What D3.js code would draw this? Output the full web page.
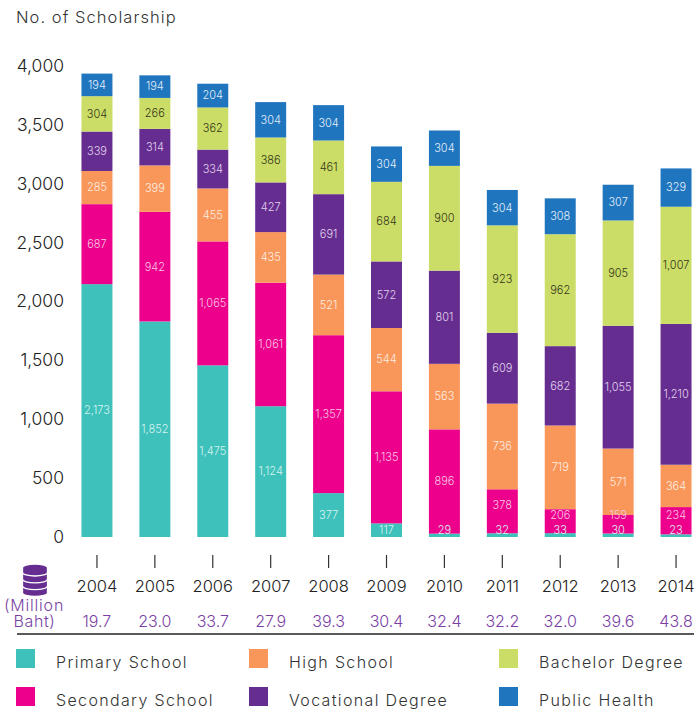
<!DOCTYPE html>
<html><head><meta charset="utf-8">
<script src="https://cdn.jsdelivr.net/npm/d3@7"></script>
<style>
html,body{margin:0;padding:0;background:#fff}
svg{display:block}
text{font-family:"Inter","Noto Sans",sans-serif;font-weight:300}
</style></head><body>
<svg id="c" width="700" height="711"></svg>
<script>
const years=["2004","2005","2006","2007","2008","2009","2010","2011","2012","2013","2014"];
const budget=["19.7","23.0","33.7","27.9","39.3","30.4","32.4","32.2","32.0","39.6","43.8"];
const seriesNames=["Primary School","Secondary School","High School","Vocational Degree","Bachelor Degree","Public Health"];
const primary=[2173,1852,1475,1124,377,117,29,32,33,30,23];
const secondary=[687,942,1065,1061,1357,1135,896,378,206,159,234];
const high=[285,399,455,435,521,544,563,736,719,571,364];
const vocational=[339,314,334,427,691,572,801,609,682,1055,1210];
const bachelor=[304,266,362,386,461,684,900,923,962,905,1007];
const health=[194,194,204,304,304,304,304,304,308,307,329];
const yTicks=[0,500,1000,1500,2000,2500,3000,3500,4000];
const colors=["#3EC1BB","#EC008C","#F9965A","#662D91","#CBDD66","#1F75BE"];
const labelFill=["#d8f3f1","#fbc6e2","#fdeee2","#e0d3ec","#33361a","#e3eefa"];

const svg=d3.select("#c");
const table=years.map((y,i)=>({year:y,Primary:primary[i],Secondary:secondary[i],High:high[i],Vocational:vocational[i],Bachelor:bachelor[i],Health:health[i]}));
const keys=["Primary","Secondary","High","Vocational","Bachelor","Health"];
const stacked=d3.stack().keys(keys)(table);

const x=d3.scaleBand().domain(years).range([68,705]).paddingInner(0.465).paddingOuter(0.2325);
const y=d3.scaleLinear().domain([0,4000]).range([537,71.5]);
const yLab=d3.scaleLinear().domain([0,4000]).range([536.5,66]);
const dark="#333";

svg.append("text").attr("x",16).attr("y",23).attr("font-size",16.5).attr("letter-spacing",1.05).attr("fill",dark).text("No. of Scholarship");

svg.append("g").selectAll("text").data(yTicks).join("text")
 .attr("x",64).attr("y",d=>yLab(d)).attr("dy","0.35em").attr("text-anchor","end")
 .attr("font-size",17.5).attr("fill","#222").text(d3.format(","));

const g=svg.append("g").selectAll("g").data(stacked).join("g").attr("fill",(d,i)=>colors[i]);
g.selectAll("rect").data(d=>d).join("rect")
 .attr("x",d=>x(d.data.year)).attr("width",x.bandwidth())
 .attr("y",d=>y(d[1])).attr("height",d=>y(d[0])-y(d[1]));

function labelY(sIdx,d){
  const c=(y(d[0])+y(d[1]))/2;
  if(sIdx===0) return Math.min(c,y(0)-7);
  if(sIdx===1 && d[0]<50 && d[1]-d[0]<400) return Math.min(c-6,y(0)-22);
  return c;
}
svg.append("g").selectAll("g").data(stacked).join("g").each(function(s,si){
  d3.select(this).selectAll("text").data(s).join("text")
   .attr("x",d=>x(d.data.year)+x.bandwidth()/2).attr("y",d=>labelY(si,d)).attr("dy","0.35em")
   .attr("text-anchor","middle").attr("font-size",11).attr("fill",labelFill[si])
   .text(d=>d3.format(",")(d[1]-d[0]));
});

const ax=svg.append("g").attr("transform","translate(0,555)").call(d3.axisBottom(x).tickSize(13).tickPadding(12));
ax.select(".domain").remove();
ax.selectAll("line").attr("stroke","#333").attr("stroke-width",1.2);
ax.selectAll("text").attr("font-size",16.5).attr("fill","#222").style("font-family",'"Inter","Noto Sans",sans-serif').style("font-weight",300);

svg.append("g").selectAll("text").data(budget).join("text")
 .attr("x",(d,i)=>x(years[i])+x.bandwidth()/2).attr("y",627).attr("text-anchor","middle")
 .attr("font-size",16).attr("fill","#7B3FA6").text(d=>d);

const unit=svg.append("text").attr("text-anchor","middle").attr("font-size",16).attr("fill","#7B3FA6");
unit.append("tspan").attr("x",34).attr("y",611).attr("letter-spacing",0.8).text("(Million");
unit.append("tspan").attr("x",34.5).attr("y",627).attr("letter-spacing",0.6).text("Baht)");

// database icon: four stacked discs, painted bottom-up
const icon=svg.append("g").attr("fill","#662D91").attr("stroke","#fff").attr("stroke-width",1.3);
[3,2,1,0].forEach(i=>{
  const t=564+i*6.8;
  icon.append("path").attr("d",`M22.5,${t+3.5} A12.5,3.5 0 0 1 47.5,${t+3.5} V${t+8.5} A12.5,3.5 0 0 1 22.5,${t+8.5} Z`);
});

svg.append("line").attr("x1",17).attr("x2",694).attr("y1",634).attr("y2",634).attr("stroke","#222").attr("stroke-width",1.3);

const legX=[16,249,499], legY=[649,687];
const legOrder=[[0,0,0],[1,0,1],[2,1,0],[3,1,1],[4,2,0],[5,2,1]];
const leg=svg.append("g").selectAll("g").data(legOrder).join("g")
 .attr("transform",d=>`translate(${legX[d[1]]},${legY[d[2]]})`);
leg.append("rect").attr("width",19).attr("height",19).attr("fill",d=>colors[d[0]]);
leg.append("text").attr("x",40).attr("y",19).attr("font-size",16).attr("letter-spacing",1.35).attr("fill",dark).text(d=>seriesNames[d[0]]);
</script>
</body></html>
